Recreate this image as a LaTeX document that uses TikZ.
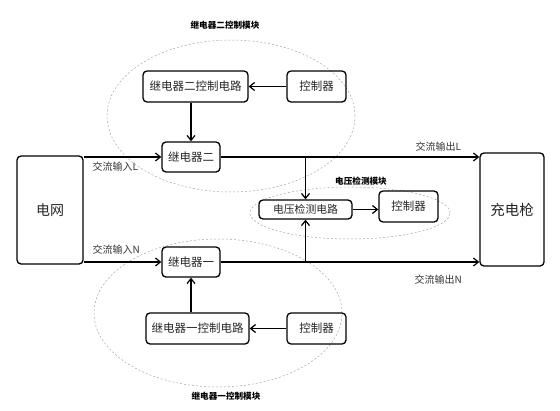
\documentclass[tikz,border=0pt]{standalone}
\usepackage{fontspec}
\setmainfont{Noto Sans CJK SC}
\usetikzlibrary{arrows.meta,positioning,shapes.geometric}

\begin{document}
\begin{tikzpicture}[x=1pt,y=-1pt,line width=1.2pt,
    >={Straight Barb[length=5pt,width=8pt]},
    block/.style={draw, line width=1.3pt, rounded corners=4pt, inner sep=0pt, text=black!85, font=\fontsize{11.5}{12}\selectfont},
    ring/.style={draw=black!35, ellipse, dash pattern=on 2pt off 2pt, line width=0.5pt, inner sep=0pt},
    modlbl/.style={font=\fontsize{8.6}{9}\selectfont\bfseries},
    lbl/.style={anchor=west, inner sep=0pt, text=black!80, font=\fontsize{10}{11}\selectfont}]
    \useasboundingbox (0,0) rectangle (560,410);
    % module outlines
    \node[ring, minimum width=248pt, minimum height=152pt] (m2) at (231,116) {};
    \node[ring, minimum width=248pt, minimum height=148pt] (m1) at (218,313) {};
    \node[ring, minimum width=200pt, minimum height=52pt] (mv) at (350,213) {};
    \node[modlbl] (m2t) at (225,25) {继电器二控制模块};
    \node[modlbl] (mvt) at (361,181) {电压检测模块};
    \node[modlbl] (m1t) at (226,396) {继电器一控制模块};
    % blocks
    \node[block, minimum width=105pt, minimum height=31pt] (cc2) at (195.5,86.5) {继电器二控制电路};
    \node[block, minimum width=59pt, minimum height=31pt] (c2) at (316.5,86.5) {控制器};
    \node[block, minimum width=58pt, minimum height=30pt] (r2) at (191,157) {继电器二};
    \node[block, minimum width=66pt, minimum height=108pt, font=\fontsize{14}{15}\selectfont] (grid) at (50,210) {电网};
    \node[block, minimum width=64pt, minimum height=113pt, font=\fontsize{14.5}{15}\selectfont] (gun) at (512,209.5) {充电枪};
    \node[block, minimum width=93pt, minimum height=19pt, font=\fontsize{10.8}{11}\selectfont] (vd) at (305.5,209.5) {电压检测电路};
    \node[block, minimum width=59pt, minimum height=31pt] (c3) at (408.5,206.5) {控制器};
    \node[block, minimum width=58pt, minimum height=30pt] (r1) at (191,262) {继电器一};
    \node[block, minimum width=103pt, minimum height=31pt] (cc1) at (197.5,328.5) {继电器一控制电路};
    \node[block, minimum width=59pt, minimum height=31pt] (c1) at (316.5,328.5) {控制器};
    % line labels
    \node[lbl] (inL) at (92,167) {交流输入L};
    \node[lbl] (inN) at (92,250) {交流输入N};
    \node[lbl] (outL) at (415,147) {交流输出L};
    \node[lbl] (outN) at (414,280) {交流输出N};
    % connections
    \coordinate (tapL) at (vd.north |- r2.east);
    \coordinate (tapN) at (vd.south |- r1.east);
    \draw [->] (c2.west) -- (c2.west -| cc2.east);
    \draw [->] (r2.north |- cc2.south) -- (r2.north);
    \draw [->] (r2.west -| grid.east) -- (r2.west);
    \draw [->] (r2.east) -- (r2.east -| gun.west);
    \draw [->] (tapL) -- (vd.north);
    \draw [->] (vd.east) -- (vd.east -| c3.west);
    \draw [->] (tapN) -- (vd.south);
    \draw [->] (r1.west -| grid.east) -- (r1.west);
    \draw [->] (r1.east) -- (r1.east -| gun.west);
    \draw [->] (r1.south |- cc1.north) -- (r1.south);
    \draw [->] (c1.west) -- (c1.west -| cc1.east);
\end{tikzpicture}
\end{document}
